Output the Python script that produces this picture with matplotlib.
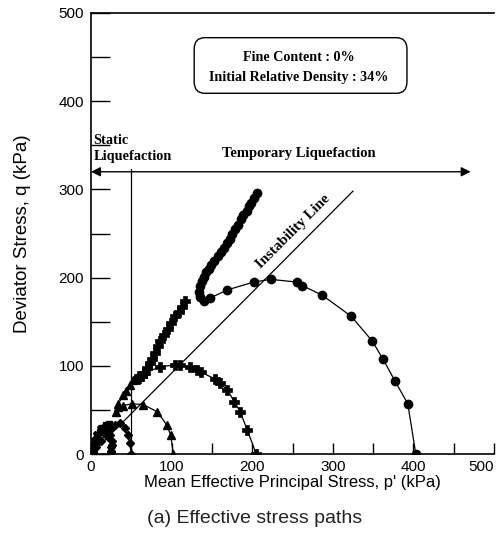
import matplotlib
matplotlib.use("Agg")
import matplotlib.pyplot as plt
from matplotlib.patches import FancyBboxPatch

# effective stress paths, p' and q in kPa
p_circle = [403, 393, 377, 362, 349, 323, 287, 262, 255, 223, 202, 169, 148, 140, 135, 134, 135, 138,
            140, 143, 146, 149, 153, 157, 161, 165, 169, 172, 175, 179, 182, 186, 189, 193, 196, 199, 202, 206]
q_circle = [0, 57, 83, 108, 128, 156, 180, 191, 195, 198, 195, 186, 177, 174, 178, 184, 190, 196,
            201, 206, 210, 214, 219, 224, 229, 234, 239, 244, 250, 255, 260, 266, 271, 276, 281, 285, 290, 296]

p_plus = [205, 194, 185, 178, 169, 160, 154, 136, 131, 123, 110, 104, 86, 67, 60, 58, 60, 63, 66,
          69, 73, 76, 80, 83, 86, 90, 95, 99, 104, 109, 113, 117]
q_plus = [0, 27, 48, 59, 73, 80, 85, 93, 95, 99, 101, 101, 99, 92, 88, 85, 86, 89, 92,
          97, 103, 108, 115, 122, 128, 135, 142, 148, 156, 161, 167, 173]

p_tri = [102, 99, 94, 82, 65, 51, 40, 33, 31, 34, 40, 44, 48, 52]
q_tri = [0, 21, 33, 48, 56, 57, 55, 53, 48, 57, 67, 72, 78, 84]

p_diam = [50, 48, 46, 42, 36, 30, 24, 18, 12, 6, 2]
q_diam = [0, 12, 21, 30, 35, 33, 28, 22, 15, 8, 2]

p_x = [25, 25, 26, 24, 21, 17, 12, 8, 5, 2, 0]
q_x = [0, 6, 12, 19, 25, 29, 28, 22, 15, 7, 2]

p_sq = [0, 2, 5, 8, 11, 14, 18, 22]
q_sq = [0, 6, 12, 19, 25, 30, 33, 34]

# instability line end points
p_inst = [0, 325]
q_inst = [0, 298]

p_static = 50
q_arrow = 320
p_arrow_end = 471

xticks_major = [0, 100, 200, 300, 400, 500]
yticks_major = [0, 100, 200, 300, 400, 500]

serif = ["Liberation Serif", "DejaVu Serif"]
sans = ["Liberation Sans", "DejaVu Sans"]

fig = plt.figure(figsize=(4.99, 5.53), dpi=100)
ax = fig.add_axes([0.1824, 0.179, 0.8076, 0.7975])

ax.set_xlim(0, 500)
ax.set_ylim(0, 500)

line_kw = dict(color="black", lw=0.9, markeredgecolor="black")
ax.plot(p_circle, q_circle, marker="o", ms=6, mfc="black", **line_kw)
ax.plot(p_plus, q_plus, marker="P", ms=6.5, mfc="black", mew=0.5, **line_kw)
ax.plot(p_tri, q_tri, marker="^", ms=6, mfc="black", **line_kw)
ax.plot(p_diam, q_diam, marker="D", ms=4.5, mfc="black", **line_kw)
ax.plot(p_x, q_x, marker="X", ms=5.5, mfc="black", **line_kw)
ax.plot(p_sq, q_sq, marker="s", ms=4.5, mfc="black", **line_kw)

ax.plot(p_inst, q_inst, color="black", lw=0.9)
ax.plot([p_static, p_static], [0, q_arrow + 3], color="black", lw=0.9)

ax.annotate("", xy=(p_arrow_end, q_arrow), xytext=(0, q_arrow),
            arrowprops=dict(arrowstyle="<|-|>", color="black", lw=1.0, mutation_scale=14,
                            shrinkA=0, shrinkB=0))

ax.text(3, 330, "Static\nLiquefaction", fontfamily=serif, fontweight="bold", fontsize=10.3,
        ha="left", va="bottom", linespacing=1.25)
ax.text(163, 341, "Temporary Liquefaction", fontfamily=serif, fontweight="bold", fontsize=10.5,
        ha="left", va="center")
ax.text(251, 252, "Instability Line", fontfamily=serif, fontweight="bold", fontsize=10.8,
        ha="center", va="center", rotation=45, rotation_mode="anchor")

box = FancyBboxPatch((128, 409), 264, 63, boxstyle="round,pad=0,rounding_size=13",
                     fc="white", ec="black", lw=1.0, transform=ax.transData)
ax.add_patch(box)
ax.text(258, 449, "Fine Content : 0%", fontfamily=serif, fontweight="bold", fontsize=10.2,
        ha="center", va="center")
ax.text(258, 427, "Initial Relative Density : 34%", fontfamily=serif, fontweight="bold", fontsize=10.2,
        ha="center", va="center")

ax.spines["right"].set_visible(False)
for s in ["left", "bottom", "top"]:
    ax.spines[s].set_linewidth(1.2)

ax.set_xticks(xticks_major)
ax.set_xticks(range(50, 500, 100), minor=True)
ax.set_yticks(yticks_major)
ax.set_yticks(range(50, 500, 100), minor=True)
ax.tick_params(axis="x", which="both", direction="in", length=8, width=1.0, pad=4)
ax.tick_params(axis="y", which="both", direction="in", length=14, width=1.0, pad=5)
for lab in ax.get_xticklabels() + ax.get_yticklabels():
    lab.set_fontfamily(sans)
    lab.set_fontsize(11)
# keep the last x label inside the figure edge
ax.get_xticklabels()[-1].set_horizontalalignment("right")

ax.set_xlabel("Mean Effective Principal Stress, p' (kPa)", fontfamily=sans, fontsize=12, labelpad=1)
ax.set_ylabel("Deviator Stress, q (kPa)", fontfamily=sans, fontsize=13.5, labelpad=20)

fig.text(0.51, 0.063, "(a) Effective stress paths", fontfamily=sans, fontsize=14,
         ha="center", va="center", color="#222222")

fig.savefig("out.png", dpi=100)
